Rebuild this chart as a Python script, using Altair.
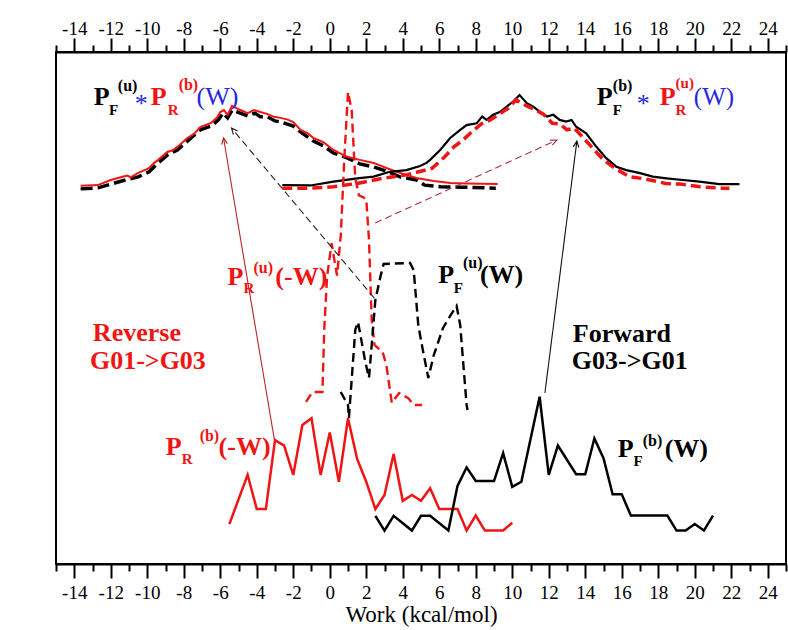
import math
import altair as alt
import pandas as pd

SERIF = "Liberation Serif"
RED = "#f01414"
BLUE = "#2626e0"
BLACK = "#000000"

X_DOMAIN = [-15, 25]
Y_DOMAIN = [0, 15]
PLOT_W, PLOT_H = 730, 512

# ---- bottom histograms -------------------------------------------------
# P_F^(b)(W): forward pulling, bound
pfb_w = [2.5, 3.0, 3.5, 4.5, 5.0, 5.5, 6.5, 7.0, 7.5, 8.0, 8.5, 9.0, 9.5, 10.0,
         10.5, 11.5, 12.0, 12.5, 13.5, 14.0, 14.5, 15.0, 15.5, 16.0, 16.5, 17.0,
         17.5, 18.0, 18.5, 19.0, 19.5, 20.0, 20.5, 21.0]
pfb_p = [1.41, 0.98, 1.41, 0.98, 1.41, 1.41, 0.98, 2.29, 2.83, 2.43, 2.43, 2.43,
         3.25, 2.26, 2.41, 4.90, 2.61, 3.47, 2.63, 2.63, 3.68, 3.10, 2.04, 2.04,
         1.42, 1.42, 1.42, 1.42, 1.42, 0.98, 0.98, 1.17, 0.98, 1.42]

# P_R^(b)(-W): reverse pulling, bound
prb_w = [-5.5, -4.5, -4.0, -3.5, -3.0, -2.5, -2.0, -1.5, -1.0, -0.5, 0.0, 0.5,
         1.0, 1.5, 2.0, 2.5, 3.0, 3.5, 4.0, 4.5, 5.0, 5.5, 6.0, 6.5, 7.0, 7.5,
         8.0, 8.5, 9.0, 9.5, 10.0]
prb_p = [1.17, 2.61, 1.61, 1.61, 3.63, 3.47, 2.61, 4.07, 4.27, 2.61, 3.85, 2.41,
         4.27, 3.08, 2.41, 1.61, 2.02, 3.22, 1.85, 2.02, 1.85, 2.22, 1.61, 1.61,
         1.61, 0.98, 1.42, 0.98, 0.98, 0.98, 1.21]

# ---- middle histograms -------------------------------------------------
# P_R^(u)(-W): reverse pulling, unbound
pru_w = [-1.3, -0.95, -0.4, -0.3, -0.15, 0.1, 0.4, 0.6, 0.8, 1.0, 1.2, 1.4, 1.6,
         2.0, 2.15, 2.3, 2.45, 2.9, 3.1, 3.4, 3.8, 4.3, 4.6, 5.05]
pru_p = [4.75, 5.04, 5.04, 6.90, 8.40, 9.40, 8.45, 9.60, 11.90, 13.83, 13.30,
         11.30, 10.80, 10.70, 9.50, 7.15, 6.42, 6.21, 5.83, 4.72, 5.01, 4.86,
         4.66, 4.66]

# P_F^(u)(W): forward pulling, unbound
pfu_w = [0.6, 1.0, 1.05, 1.2, 1.4, 1.55, 1.75, 1.95, 2.15, 2.3, 2.5, 2.8, 2.95,
         4.4, 4.6, 4.85, 5.1, 5.4, 5.7, 6.2, 6.6, 6.95, 7.15, 7.3, 7.5, 7.55]
pfu_p = [5.04, 4.66, 4.28, 5.39, 6.86, 7.09, 6.50, 5.92, 5.45, 6.42, 7.74, 8.47,
         8.79, 8.82, 8.61, 7.00, 6.27, 5.45, 6.12, 6.91, 7.27, 7.56, 7.00, 5.98,
         4.66, 4.51]

# ---- top: convolved distributions ---------------------------------------
# P_F^(u) * P_R^(b)(W), solid red
conv1_w = [-13.65, -12.7, -12.0, -11.4, -11.1, -10.9, -10.5, -9.9, -9.6, -9.4,
           -8.9, -8.6, -8.35, -7.8, -7.4, -7.1, -6.5, -6.15, -6.0, -5.8, -5.6,
           -5.35, -4.9, -4.5, -4.15, -3.8, -3.4, -3.05, -2.7, -2.3, -2.0, -1.6,
           -1.2, -0.9, -0.35, 0.2, 0.95, 1.65, 2.4, 3.1, 3.85, 4.75, 5.7, 6.6,
           7.5, 9.2]
conv1_p = [11.08, 11.10, 11.25, 11.34, 11.38, 11.33, 11.46, 11.60, 11.76, 11.84,
           12.07, 12.12, 12.22, 12.48, 12.62, 12.80, 12.92, 13.10, 13.24, 13.30,
           13.16, 13.42, 13.30, 13.21, 13.30, 13.24, 13.18, 13.10, 13.07, 13.02,
           12.95, 12.72, 12.62, 12.48, 12.36, 12.13, 11.93, 11.84, 11.75, 11.60,
           11.46, 11.31, 11.22, 11.16, 11.15, 11.13]

# same product from the other pair, dashed black
conv2_w = [-13.65, -12.7, -12.0, -11.4, -10.5, -9.9, -9.4, -8.9, -8.35, -7.8,
           -7.1, -6.5, -6.1, -5.85, -5.6, -5.35, -4.9, -4.5, -4.1, -3.8, -3.4,
           -3.0, -2.7, -2.0, -1.6, -0.9, -0.35, 0.2, 0.95, 1.65, 2.4, 3.1, 3.85,
           4.75, 5.2, 6.1, 7.2, 9.1]
conv2_p = [10.99, 11.02, 11.13, 11.22, 11.34, 11.49, 11.75, 11.98, 12.13, 12.39,
           12.72, 12.83, 13.01, 13.21, 13.07, 13.30, 13.21, 13.13, 13.21, 13.10,
           13.10, 12.98, 12.95, 12.83, 12.66, 12.39, 12.25, 12.04, 11.90, 11.72,
           11.63, 11.51, 11.34, 11.25, 11.10, 11.05, 11.04, 11.01]

# P_F^(b) * P_R^(u)(W), solid black
conv3_w = [-2.6, -1.05, 0.2, 1.5, 2.4, 3.3, 4.2, 4.95, 5.3, 5.5, 6.05, 6.6, 7.15,
           7.5, 8.05, 8.35, 8.6, 8.95, 9.35, 9.7, 10.05, 10.4, 10.8, 11.15, 11.5,
           11.9, 12.25, 12.6, 12.95, 13.25, 13.5, 14.05, 14.6, 15.15, 15.7,
           16.25, 17.0, 17.7, 18.45, 19.35, 20.25, 21.35, 22.45]
conv3_p = [11.10, 11.09, 11.20, 11.30, 11.35, 11.49, 11.54, 11.66, 11.75, 11.84,
           12.13, 12.48, 12.72, 12.86, 12.91, 13.11, 13.01, 13.16, 13.25, 13.40,
           13.55, 13.74, 13.50, 13.40, 13.25, 13.11, 13.16, 13.01, 12.96, 13.01,
           12.81, 12.62, 12.23, 11.89, 11.64, 11.54, 11.45, 11.35, 11.30, 11.25,
           11.20, 11.13, 11.13]

# same product from the other pair, dashed red
conv4_w = [-2.6, -1.05, 0.2, 1.5, 2.9, 4.2, 5.6, 6.3, 6.8, 7.3, 7.7, 8.3, 8.8,
           9.3, 9.8, 10.2, 10.5, 10.9, 11.3, 11.7, 12.2, 12.6, 13.0, 13.4, 13.8,
           14.5, 15.0, 15.6, 16.4, 17.3, 18.4, 19.2, 20.3, 21.5, 21.9]
conv4_p = [11.01, 11.01, 11.05, 11.15, 11.30, 11.40, 11.59, 11.93, 12.22, 12.42,
           12.62, 12.89, 13.01, 13.18, 13.36, 13.60, 13.50, 13.39, 13.30, 13.18,
           12.91, 12.89, 12.72, 12.77, 12.54, 12.13, 11.84, 11.60, 11.35, 11.28,
           11.15, 11.13, 11.05, 11.01, 11.01]

# ---- arrows linking histograms to their products -------------------------
arrow_w1 = [-3.03, 2.44, 2.49, 11.79]
arrow_p1 = [3.63, 7.79, 9.99, 5.01]
arrow_w2 = [-5.82, -5.38, 12.44, 13.54]
arrow_p2 = [12.48, 12.77, 12.42, 12.39]
arrow_color = ["#b8262a", "#222222", "#a8324a", "#111111"]
arrow_dashed = [False, True, True, False]

# ---- annotation text: (text, w, p, color, size, bold) -------------------
labels = [
    ("P", -12.93, 13.45, BLACK, 26, True),
    ("F", -12.10, 13.16, BLACK, 15, True),
    ("(u)", -11.61, 13.86, BLACK, 16, True),
    ("*", -10.68, 13.24, BLUE, 26, False),
    ("P", -9.81, 13.45, RED, 26, True),
    ("R", -8.88, 13.16, RED, 15, True),
    ("(b)", -8.28, 13.88, RED, 16, True),
    ("(W)", -7.30, 13.45, BLUE, 26, False),

    ("P", 14.63, 13.45, BLACK, 26, True),
    ("F", 15.51, 13.16, BLACK, 15, True),
    ("(b)", 15.51, 13.86, BLACK, 16, True),
    ("*", 16.82, 13.24, BLUE, 26, False),
    ("P", 18.08, 13.45, RED, 26, True),
    ("R", 18.95, 13.16, RED, 15, True),
    ("(u)", 18.95, 13.95, RED, 15, True),
    ("(W)", 19.95, 13.45, BLUE, 25, False),

    ("P", -5.60, 8.17, RED, 26, True),
    ("R", -4.72, 7.94, RED, 15, True),
    ("(u)", -4.18, 8.53, RED, 16, True),
    ("(-W)", -2.98, 8.17, RED, 26, True),

    ("P", 5.94, 8.23, BLACK, 26, True),
    ("F", 6.80, 7.94, BLACK, 15, True),
    ("(u)", 7.30, 8.67, BLACK, 16, True),
    ("(W)", 8.23, 8.23, BLACK, 26, True),

    ("P", -8.99, 3.19, RED, 26, True),
    ("R", -8.11, 2.93, RED, 15, True),
    ("(b)", -7.13, 3.60, RED, 16, True),
    ("(-W)", -6.09, 3.19, RED, 26, True),

    ("P", 15.78, 3.14, BLACK, 26, True),
    ("F", 16.65, 2.87, BLACK, 15, True),
    ("(b)", 17.15, 3.46, BLACK, 16, True),
    ("(W)", 18.35, 3.14, BLACK, 26, True),

    ("Reverse", -12.98, 6.53, RED, 26, True),
    ("G01->G03", -13.14, 5.71, RED, 26, True),
    ("Forward", 13.32, 6.50, BLACK, 26, True),
    ("G03->G01", 13.26, 5.71, BLACK, 26, True),
]

xscale = alt.Scale(domain=X_DOMAIN, nice=False, zero=False)
yscale = alt.Scale(domain=Y_DOMAIN, nice=False, zero=False)


def frame(xs, ys):
    return pd.DataFrame({"w": xs, "p": ys, "i": list(range(len(xs)))})


def curve(xs, ys, color, width, dash=None):
    style = dict(color=color, strokeWidth=width, clip=True, strokeJoin="miter")
    if dash:
        style["strokeDash"] = dash
    return alt.Chart(frame(xs, ys)).mark_line(**style).encode(
        x=alt.X("w:Q", scale=xscale, axis=None),
        y=alt.Y("p:Q", scale=yscale, axis=None),
        order="i:Q",
    )


even = "datum.value % 2 == 0"
odd = "datum.value % 2 != 0"

axis_common = dict(
    domainColor=BLACK, domainWidth=2, tickColor=BLACK, tickWidth=2,
    grid=False, labelFont=SERIF, labelFontSize=19, labelColor=BLACK,
    labelOverlap=False, labelFlush=False, titleFont=SERIF,
    titleFontWeight="normal", titleColor=BLACK, titleFontSize=25,
)

# plain hyphen for negative tick labels
tick_text = f"{even} ? '' + datum.value : ''"

bottom_axis = alt.Axis(
    orient="bottom", values=list(range(-15, 26)), labelExpr=tick_text,
    tickSize={"condition": {"test": even, "value": 14}, "value": 7},
    labelPadding=5, title="Work (kcal/mol)", titlePadding=1,
    **{**axis_common, "titleFontSize": 23},
)
top_axis = alt.Axis(
    orient="top", values=list(range(-15, 26)), labelExpr=tick_text,
    tickSize={"condition": {"test": even, "value": 14}, "value": 7},
    labelPadding=0, title=None, **axis_common,
)
left_axis = alt.Axis(
    orient="left", values=list(range(0, 15)), labels=False,
    tickSize={"condition": {"test": odd, "value": 14}, "value": 7},
    title="Probability", titlePadding=8, **axis_common,
)

anchor = pd.DataFrame({"w": [X_DOMAIN[0]], "p": [Y_DOMAIN[0]]})
axes_bottom = alt.Chart(anchor).mark_point(opacity=0).encode(
    x=alt.X("w:Q", scale=xscale, axis=bottom_axis),
    y=alt.Y("p:Q", scale=yscale, axis=left_axis),
)
axes_top = alt.Chart(anchor).mark_point(opacity=0).encode(
    x=alt.X("w:Q", scale=xscale, axis=top_axis),
    y=alt.Y("p:Q", scale=yscale, axis=None),
)

# arrows: shafts and open heads
arrows = pd.DataFrame({
    "w1": arrow_w1, "p1": arrow_p1, "w2": arrow_w2, "p2": arrow_p2,
    "c": arrow_color, "dashed": arrow_dashed,
})
px_per_w = PLOT_W / (X_DOMAIN[1] - X_DOMAIN[0])
px_per_p = PLOT_H / (Y_DOMAIN[1] - Y_DOMAIN[0])
arrows["ang"] = [
    math.degrees(math.atan2((b - a) * px_per_w, (d - c) * px_per_p)) % 360
    for a, b, c, d in zip(arrows.w1, arrows.w2, arrows.p1, arrows.p2)
]


def shafts(dashed):
    sub = arrows[arrows.dashed == dashed]
    style = dict(strokeWidth=1.1)
    if dashed:
        style["strokeDash"] = [7, 4]
    return alt.Chart(sub).mark_rule(**style).encode(
        x=alt.X("w1:Q", scale=xscale, axis=None),
        y=alt.Y("p1:Q", scale=yscale, axis=None),
        x2="w2:Q", y2="p2:Q",
        color=alt.Color("c:N", scale=None),
    )


heads = alt.Chart(arrows).mark_point(
    shape="M-0.6,1.3L0,0L0.6,1.3", filled=False, strokeWidth=1.2, size=90,
    opacity=1,
).encode(
    x=alt.X("w2:Q", scale=xscale, axis=None),
    y=alt.Y("p2:Q", scale=yscale, axis=None),
    angle=alt.Angle("ang:Q", scale=None),
    color=alt.Color("c:N", scale=None),
)

label_df = pd.DataFrame(labels, columns=["t", "w", "p", "c", "s", "bold"])


def text_layer(bold):
    sub = label_df[label_df.bold == bold]
    return alt.Chart(sub).mark_text(
        font=SERIF, fontWeight="bold" if bold else "normal",
        align="left", baseline="alphabetic",
    ).encode(
        x=alt.X("w:Q", scale=xscale, axis=None),
        y=alt.Y("p:Q", scale=yscale, axis=None),
        text="t:N",
        color=alt.Color("c:N", scale=None),
        size=alt.Size("s:Q", scale=None),
    )


chart = alt.layer(
    axes_bottom,
    axes_top,
    curve(conv2_w, conv2_p, BLACK, 3.5, [12, 5]),
    curve(conv1_w, conv1_p, RED, 2),
    curve(conv3_w, conv3_p, BLACK, 2.2),
    curve(conv4_w, conv4_p, RED, 3.5, [10, 5]),
    curve(pru_w, pru_p, RED, 2.4, [9, 5]),
    curve(pfu_w, pfu_p, BLACK, 2.4, [9, 5]),
    curve(prb_w, prb_p, RED, 2.5),
    curve(pfb_w, pfb_p, BLACK, 2.5),
    shafts(False),
    shafts(True),
    heads,
    text_layer(True),
    text_layer(False),
).resolve_axis(
    x="independent"
).properties(
    width=PLOT_W, height=PLOT_H,
    padding={"left": 56, "top": 52, "right": 2, "bottom": 66},
    autosize="none", background="white",
).configure_view(
    stroke=BLACK, strokeWidth=2
)

chart.save("out.html", embed_options={"renderer": "svg", "actions": False})
